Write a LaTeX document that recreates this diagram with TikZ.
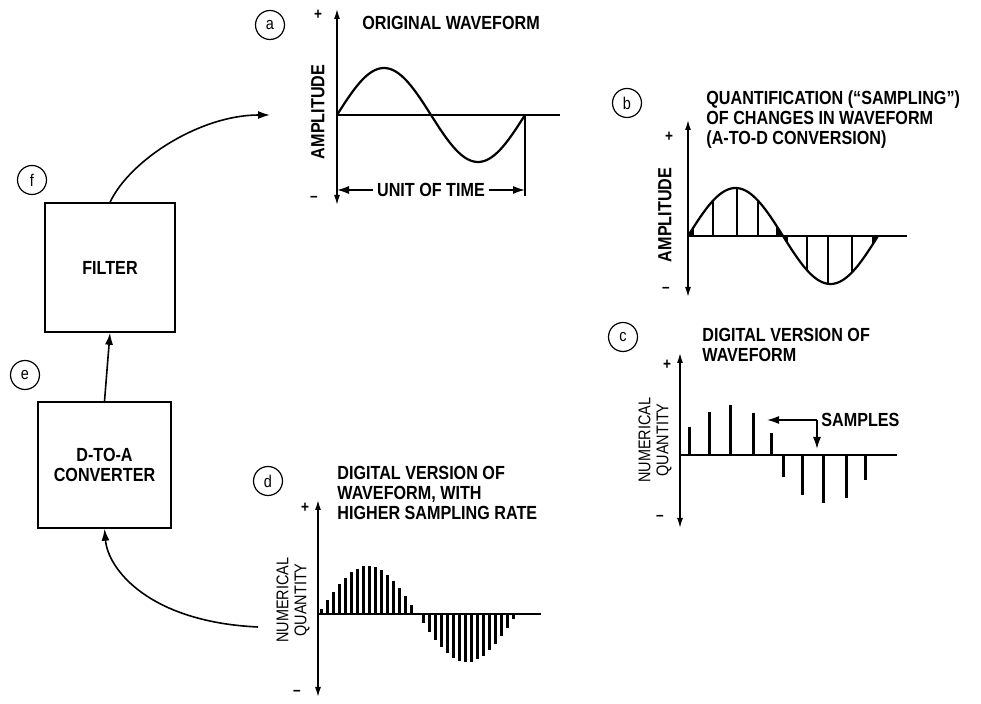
\documentclass[tikz,border=0pt]{standalone}
\usepackage{fontspec}
\setmainfont[FakeStretch=0.85]{Liberation Sans}
\usepackage{tikz}
\usetikzlibrary{arrows.meta}

\begin{document}
\begin{tikzpicture}[x=0.5pt, y=-0.5pt,
  every node/.style={font=\fontsize{9.5}{10}\selectfont\bfseries},
  tag/.style={draw, circle, line width=0.6pt, minimum size=14.5pt, inner sep=0pt,
              font=\fontsize{8.5}{8.5}\selectfont},
  block/.style={draw, line width=0.7pt, align=center},
  note/.style={anchor=west, align=left, inner sep=0pt},
  vlbl/.style={rotate=90, align=center, inner sep=0pt},
  sign/.style={inner sep=0pt, font=\fontsize{8}{8}\selectfont\bfseries},
  axis/.style={{Latex[length=5pt,width=3pt]}-{Latex[length=5pt,width=3pt]}, line width=0.7pt},
  link/.style={-{Latex[length=6pt,width=4pt]}, line width=0.8pt},
  base/.style={line width=0.6pt},
  wave/.style={line width=1.1pt},
]
\useasboundingbox (0,0) rectangle (981,704);

\node[block, minimum width=65pt, minimum height=64.5pt] (filter) at (110,267.5) {FILTER};
\node[block, minimum width=66.5pt, minimum height=63pt] (dac) at (104.5,465) {D-TO-A\\CONVERTER};
\node[tag] (tf) at (32,180) {f};
\node[tag] (te) at (25,375) {e};
\node[tag] (ta) at (270,25) {a};
\node[tag] (tb) at (627,103) {b};
\node[tag] (tc) at (623,337) {c};
\node[tag] (td) at (268,481) {d};

% (a) original waveform
\node[note] (atxt) at (362,23) {ORIGINAL WAVEFORM};
\node[vlbl] (aamp) at (318,112) {AMPLITUDE};
\node[sign] (ap) at (318,15) {+};
\node[sign] (am) at (314,199) {--};
\draw[axis] (337,205) -- (337,9);
\draw[base] (337,115) -- (560,115);
\draw[wave] plot[domain=0:188, samples=80] ({337+\x},{115-47*sin(\x/188*360)});
\draw[base] (525,115) -- (525,196);
\node[fill=white, inner xsep=2pt] (unit) at (431,190) {UNIT OF TIME};
\coordinate (ut0) at (337,190);
\coordinate (ut1) at (525,190);
\draw[link] (unit.west) -- (ut0);
\draw[link] (unit.east) -- (ut1);

% (b) sampling
\node[note] (btxt) at (706,120) {QUANTIFICATION (“SAMPLING”)\\OF CHANGES IN WAVEFORM\\(A-TO-D CONVERSION)};
\node[vlbl] (bamp) at (665,215) {AMPLITUDE};
\node[sign] (bp) at (669,137) {+};
\node[sign] (bm) at (666,290) {--};
\draw[axis] (688,297) -- (688,120);
\draw[base] (688,236) -- (907,236);
\draw[wave] plot[domain=0:190, samples=80] ({688+\x},{236-48*sin(\x/190*360)});
\foreach \t in {5,25,49,70,89,99,119,140,164,185}
  \draw[line width=1pt] ({688+\t},236) -- ({688+\t},{236-48*sin(\t/190*360)});
\foreach \s/\e in {0/5,89/99,185/190}
  \fill ({688+\s},236) -- plot[domain=\s:\e, samples=8] ({688+\x},{236-48*sin(\x/190*360)}) -- ({688+\e},236) -- cycle;

% (c) digital version
\node[note] (ctxt) at (702,345) {DIGITAL VERSION OF\\WAVEFORM};
\node[vlbl, font=\fontsize{8.5}{9}\selectfont] (cnum) at (655,440) {NUMERICAL\\QUANTITY};
\node[sign] (cp) at (667,365) {+};
\node[sign] (cm) at (660,518) {--};
\draw[axis] (680,528) -- (680,353);
\draw[base] (680,455) -- (897,455);
\foreach \t/\h in {9/28,29/43,50/50,73/42,91/22,103/-22,122/-40,143/-48,166/-43,185/-25}
  \draw[line width=1.5pt] ({680+\t},455) -- ({680+\t},{455-\h});
\node[note, inner sep=2pt] (smp) at (817,420) {SAMPLES};
\coordinate (smpl) at (767,420);
\coordinate (smpd) at (817,449);
\draw[link] (smp.west) -- (smpl);
\draw[link] (smp.west) -- (smpd);

% (d) higher sampling rate
\node[note] (dtxt) at (337,493) {DIGITAL VERSION OF\\WAVEFORM, WITH\\HIGHER SAMPLING RATE};
\node[vlbl, font=\fontsize{8.5}{9}\selectfont] (dnum) at (293,600) {NUMERICAL\\QUANTITY};
\node[sign] (dp) at (305,508) {+};
\node[sign] (dm) at (297,693) {--};
\draw[axis] (318,697) -- (318,500);
\draw[base] (318,614) -- (541,614);
\foreach \t in {3,9,...,195}
  \draw[line width=1.5pt] ({318+\t},614) -- ({318+\t},{614-48*sin(\t/198*360)});

\coordinate (fout) at (270,115);
\coordinate (din) at (258,627);
\draw[link] (filter.north) .. controls (130,160) and (200,115) .. (fout);
\draw[link] (dac.north) -- (filter.south);
\draw[link] (din) .. controls (150,622) and (108,570) .. (dac.south);
\end{tikzpicture}
\end{document}
